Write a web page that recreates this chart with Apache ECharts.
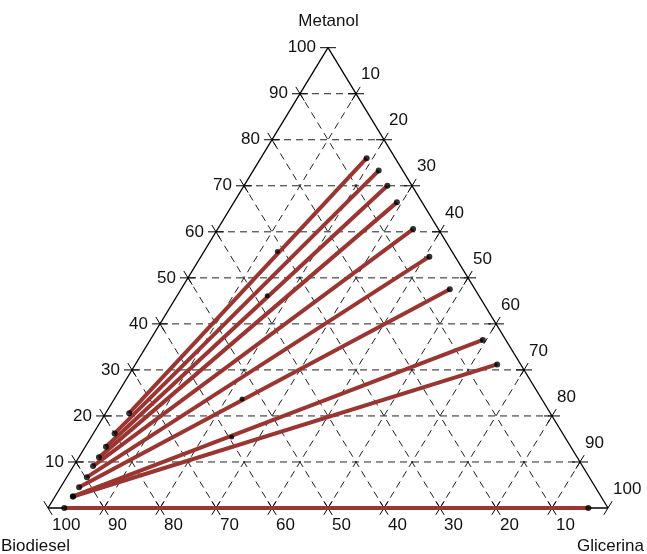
<!DOCTYPE html>
<html>
<head>
<meta charset="utf-8">
<script src="https://cdn.jsdelivr.net/npm/echarts@6/dist/echarts.min.js"></script>
<style>html,body{margin:0;padding:0;background:#fff;}#c{width:647px;height:554px;}</style>
</head>
<body>
<div id="c"></div>
<script>
// ---- data (percent) ----
var gridSteps = [10, 20, 30, 40, 50, 60, 70, 80, 90];
var tickLabels = [10, 20, 30, 40, 50, 60, 70, 80, 90, 100];
// Biodiesel-rich phase end of each tie line
var bioPhaseMetanol   = [20.6, 16.2, 13.3, 11.0, 9.1, 6.7, 4.5, 2.5, 2.5, 0];
var bioPhaseGlicerina = [4.2, 3.8, 3.7, 3.6, 3.5, 3.6, 3.3, 3.2, 3.2, 2.9];
// Glicerina-rich phase end of each tie line
var gliPhaseMetanol   = [76.0, 73.3, 70.0, 66.4, 60.6, 54.6, 47.5, 36.5, 31.2, 0];
var gliPhaseGlicerina = [18.9, 22.4, 25.6, 29.1, 34.9, 40.8, 48.0, 59.4, 64.6, 96.5];
// overall (feed) compositions
var feedMetanol   = [55.7, 46.1, 23.7, 15.4];
var feedGlicerina = [13.1, 16.1, 22.8, 25.1];

// ternary (glicerina, metanol) -> cartesian
function tern(g, m) { return [g + m / 2, m]; }

// triangle edges
var edges = [];
(function () {
  var T = tern(0, 100), L = tern(0, 0), R = tern(100, 0);
  edges.push([L[0], L[1], T[0], T[1]]);
  edges.push([T[0], T[1], R[0], R[1]]);
  edges.push([R[0], R[1], L[0], L[1]]);
})();

// dashed grid lines
var gridLines = [];
gridSteps.forEach(function (k) {
  // metanol = k (horizontal)
  var a = tern(0, k), b = tern(100 - k, k);
  gridLines.push([a[0], a[1], b[0], b[1]]);
  // glicerina = k
  a = tern(k, 0); b = tern(k, 100 - k);
  gridLines.push([a[0], a[1], b[0], b[1]]);
  // biodiesel = k
  a = tern(100 - k, 0); b = tern(0, 100 - k);
  gridLines.push([a[0], a[1], b[0], b[1]]);
});

// ticks: [x, y, dir]; dir 0 = horizontal, 1 = "/", 2 = "\"
var ticks = [];
tickLabels.forEach(function (k) {
  var p;
  // left edge (metanol = k)
  p = tern(0, k);
  ticks.push([p[0], p[1], 0]);
  if (k < 100) ticks.push([p[0], p[1], 2]);
  // right edge (glicerina = k)
  p = tern(k, 100 - k);
  ticks.push([p[0], p[1], 1]);
  if (k < 100) ticks.push([p[0], p[1], 0]);
  // bottom edge (biodiesel = k)
  p = tern(100 - k, 0);
  ticks.push([p[0], p[1], 2]);
  if (k < 100) ticks.push([p[0], p[1], 1]);
});

// axis labels: [x, y, text, side]
var labels = [];
tickLabels.forEach(function (k) {
  var p = tern(0, k); labels.push([p[0], p[1], String(k), 0]);
  p = tern(k, 100 - k); labels.push([p[0], p[1], String(k), 1]);
  p = tern(100 - k, 0); labels.push([p[0], p[1], String(k), 2]);
});

// tie lines and endpoints
var tieLines = [], endPoints = [], feedPoints = [];
for (var i = 0; i < bioPhaseMetanol.length; i++) {
  var a = tern(bioPhaseGlicerina[i], bioPhaseMetanol[i]);
  var b = tern(gliPhaseGlicerina[i], gliPhaseMetanol[i]);
  tieLines.push([a[0], a[1], b[0], b[1]]);
  endPoints.push(a); endPoints.push(b);
}
for (var j = 0; j < feedMetanol.length; j++) feedPoints.push(tern(feedGlicerina[j], feedMetanol[j]));

function segRender(style) {
  return function (params, api) {
    var p1 = api.coord([api.value(0), api.value(1)]);
    var p2 = api.coord([api.value(2), api.value(3)]);
    return { type: 'line', shape: { x1: p1[0], y1: p1[1], x2: p2[0], y2: p2[1] }, style: style };
  };
}
var dirs = [[1, 0], [0.5, 1], [-0.5, 1]];
function tickRender(params, api) {
  var x = api.value(0), y = api.value(1), d = dirs[api.value(2)];
  var p = api.coord([x, y]), q = api.coord([x + d[0], y + d[1]]);
  var dx = q[0] - p[0], dy = q[1] - p[1], len = Math.sqrt(dx * dx + dy * dy);
  var L = 8; dx = dx / len * L; dy = dy / len * L;
  return { type: 'line', shape: { x1: p[0] - dx, y1: p[1] - dy, x2: p[0] + dx, y2: p[1] + dy },
    style: { stroke: '#000', lineWidth: 1 } };
}
var FONT = '"Liberation Sans", Arial, sans-serif';
function labelRender(params, api) {
  var p = api.coord([api.value(0), api.value(1)]);
  var side = api.value(3);
  var txt = labels[params.dataIndex][2];
  var x, y, align;
  if (side === 0) { x = p[0] - 12; y = p[1]; align = 'right'; }
  else if (side === 1) { x = p[0] + 5; y = p[1] - 19; align = 'left'; }
  else { x = p[0] + 4; y = p[1] + 17; align = 'left'; }
  return { type: 'text', x: x, y: y,
    style: { text: txt, fill: '#111', font: '17px ' + FONT, textAlign: align, textVerticalAlign: 'middle' } };
}

var chart = echarts.init(document.getElementById('c'), null, { renderer: 'canvas' });
chart.setOption({
  animation: false,
  backgroundColor: '#fff',
  grid: { left: 48, right: 39, top: 47.7, bottom: 46 },
  xAxis: { type: 'value', min: 0, max: 100, show: false },
  yAxis: { type: 'value', min: 0, max: 100, show: false },
  graphic: [
    { type: 'text', x: 328.5, y: 21, style: { text: 'Metanol', fill: '#111', font: '17px ' + FONT, textAlign: 'center', textVerticalAlign: 'middle' } },
    { type: 'text', x: 1, y: 546, style: { text: 'Biodiesel', fill: '#111', font: '17px ' + FONT, textAlign: 'left', textVerticalAlign: 'middle' } },
    { type: 'text', x: 644, y: 546, style: { text: 'Glicerina', fill: '#111', font: '17px ' + FONT, textAlign: 'right', textVerticalAlign: 'middle' } }
  ],
  series: [
    { type: 'custom', clip: false, z: 1, silent: true, data: gridLines,
      encode: { x: [0, 2], y: [1, 3] },
      renderItem: segRender({ stroke: '#222', lineWidth: 1, lineDash: [7, 5] }) },
    { type: 'custom', clip: false, z: 2, silent: true, data: edges,
      encode: { x: [0, 2], y: [1, 3] },
      renderItem: segRender({ stroke: '#000', lineWidth: 1.3 }) },
    { type: 'custom', clip: false, z: 2, silent: true, data: ticks,
      encode: { x: 0, y: 1 }, renderItem: tickRender },
    { type: 'custom', clip: false, z: 2, silent: true, data: labels.map(function (l) { return [l[0], l[1], 0, l[3]]; }),
      encode: { x: 0, y: 1 }, renderItem: labelRender },
    { type: 'custom', clip: false, z: 3, silent: true, data: tieLines,
      encode: { x: [0, 2], y: [1, 3] },
      renderItem: segRender({ stroke: '#9b3532', lineWidth: 4 }) },
    { type: 'scatter', z: 4, silent: true, data: endPoints, symbolSize: 6,
      itemStyle: { color: '#000' } },
    { type: 'scatter', z: 4, silent: true, data: feedPoints, symbolSize: 5,
      itemStyle: { color: '#000' } }
  ]
});
</script>
</body>
</html>
